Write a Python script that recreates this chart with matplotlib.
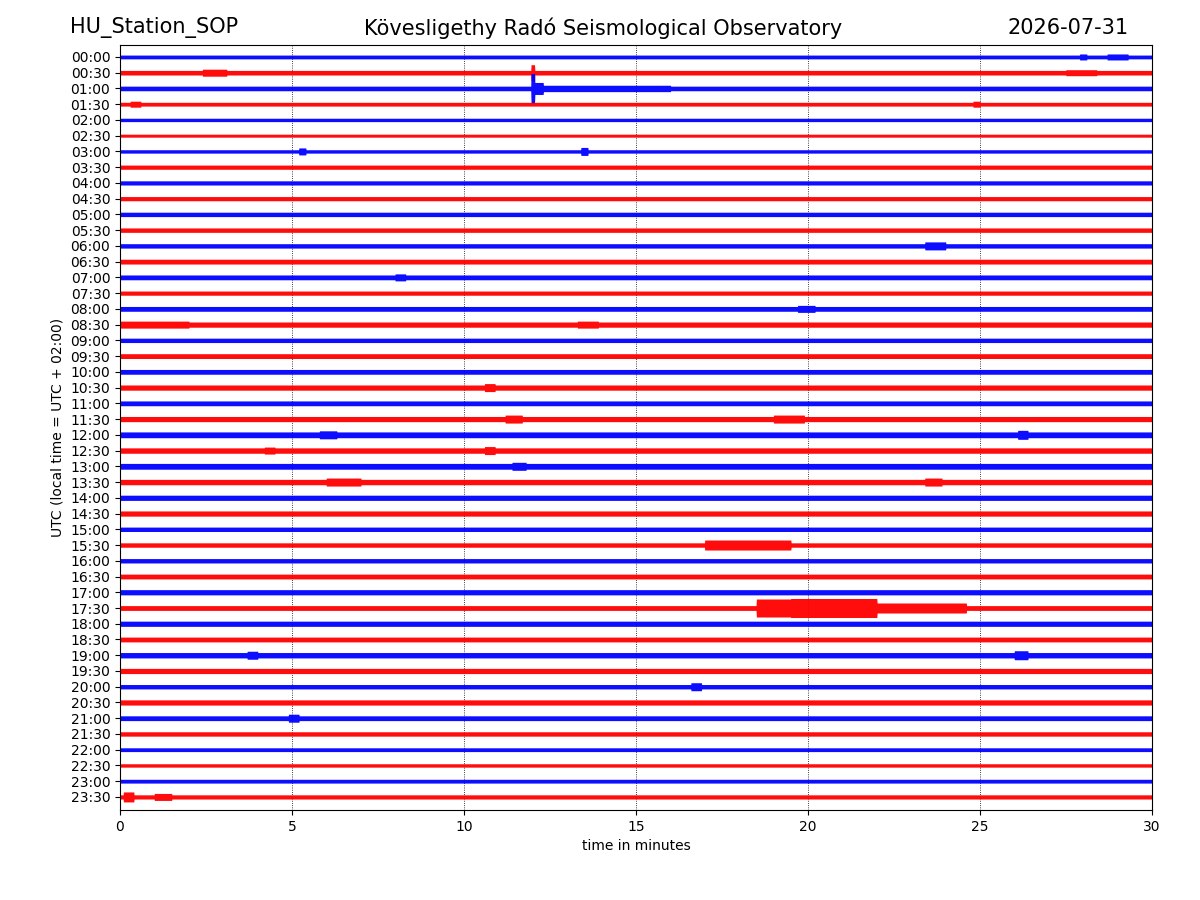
import numpy as np
import matplotlib
matplotlib.use("Agg")
import matplotlib.pyplot as plt

#------------------------------------------------------------------------------
# Data read off the helicorder (amplitudes are half-widths of each trace band,
# in pixels of the original 1200x900 picture)
#------------------------------------------------------------------------------
station = 'HU_Station_SOP'
observatory = 'Kövesligethy Radó Seismological Observatory'
day = '2026-07-31'

row_labels = ['%02d:%02d' % (h, m) for h in range(24) for m in (0, 30)]

base_amp = [1.9, 2.3, 2.3, 1.9, 1.7, 1.5, 1.7, 2.1, 2.1, 2.1, 2.2, 2.2,
            2.2, 2.4, 2.4, 2.1, 2.4, 2.6, 2.2, 2.4, 2.4, 2.6, 2.4, 2.6,
            2.9, 2.7, 2.9, 2.7, 2.6, 2.6, 2.2, 2.2, 2.2, 2.4, 2.6, 2.4,
            2.6, 2.4, 2.7, 2.6, 2.2, 2.6, 2.4, 2.2, 1.9, 1.7, 1.9, 2.1]

# bursts: row index, start minute, end minute, half-width (px)
ev_row = [1, 1, 2, 2, 2, 1, 0, 0, 6, 6, 3, 3, 17, 17, 14, 21, 23, 23, 24, 24, 25,
          25, 26, 27, 27, 31, 35, 35, 35, 38, 38, 40, 47, 47, 42, 12, 16]
ev_start = [2.4, 27.5, 11.95, 12.05, 12.3, 11.95, 28.7, 27.9, 5.2, 13.4, 0.3, 24.8, 0.0, 13.3, 8.0, 10.6, 11.2, 19.0, 5.8, 26.1, 10.6,
            4.2, 11.4, 6.0, 23.4, 17.0, 18.5, 19.5, 22.0, 3.7, 26.0, 16.6, 0.1, 1.0, 4.9, 23.4, 19.7]
ev_end = [3.1, 28.4, 12.05, 12.3, 16.0, 12.05, 29.3, 28.1, 5.4, 13.6, 0.6, 25.0, 2.0, 13.9, 8.3, 10.9, 11.7, 19.9, 6.3, 26.4, 10.9,
          4.5, 11.8, 7.0, 23.9, 19.5, 19.5, 22.0, 24.6, 4.0, 26.4, 16.9, 0.4, 1.5, 5.2, 24.0, 20.2]
ev_amp = [3.5, 3.0, 15.0, 6.0, 3.2, 8.0, 3.0, 3.0, 3.5, 4.0, 3.0, 3.0, 3.5, 3.5, 3.5, 4.0, 4.0, 4.0, 4.0, 4.5, 4.0,
          3.5, 4.0, 4.0, 4.0, 5.0, 9.0, 9.5, 5.0, 4.0, 4.5, 4.0, 5.0, 3.5, 4.0, 4.0, 3.5]

row_px = 15.74  # pixels per row in the reference

#------------------------------------------------------------------------------
# Plot
#------------------------------------------------------------------------------
fig = plt.figure(figsize=(12, 9), dpi=100)
ax = fig.add_axes([0.1, 0.1, 0.86, 0.85])

t = np.linspace(0, 30, 3001)
for i, lab in enumerate(row_labels):
    env = np.full(t.shape, base_amp[i])
    for r, a, b, amp in zip(ev_row, ev_start, ev_end, ev_amp):
        if r == i:
            sel = (t >= a) & (t <= b)
            env[sel] = np.maximum(env[sel], amp)
    env = env / row_px
    color = 'blue' if i % 2 == 0 else 'red'
    ax.fill_between(t, i - env, i + env, color=color, linewidth=0.0, alpha=0.95)

ax.set_xlim(0, 30)
ax.set_ylim(47.83, -0.76)
ax.set_yticks(range(len(row_labels)))
ax.set_yticklabels(row_labels)
ax.set_xticks([0, 5, 10, 15, 20, 25, 30])
ax.grid(axis='x', linestyle=':', color='k', linewidth=0.6)
ax.set_axisbelow(True)
ax.set_xlabel('time in minutes')
ax.set_ylabel('UTC (local time = UTC + 02:00)')

fig.text(70 / 1200, 1 - 28 / 900, station, fontsize=15, ha='left', va='center')
fig.text(0.5025, 1 - 28 / 900, observatory, fontsize=15, ha='center', va='center')
fig.text(1129 / 1200, 1 - 28 / 900, day, fontsize=15, ha='right', va='center')

fig.savefig('out.png', dpi=100)
